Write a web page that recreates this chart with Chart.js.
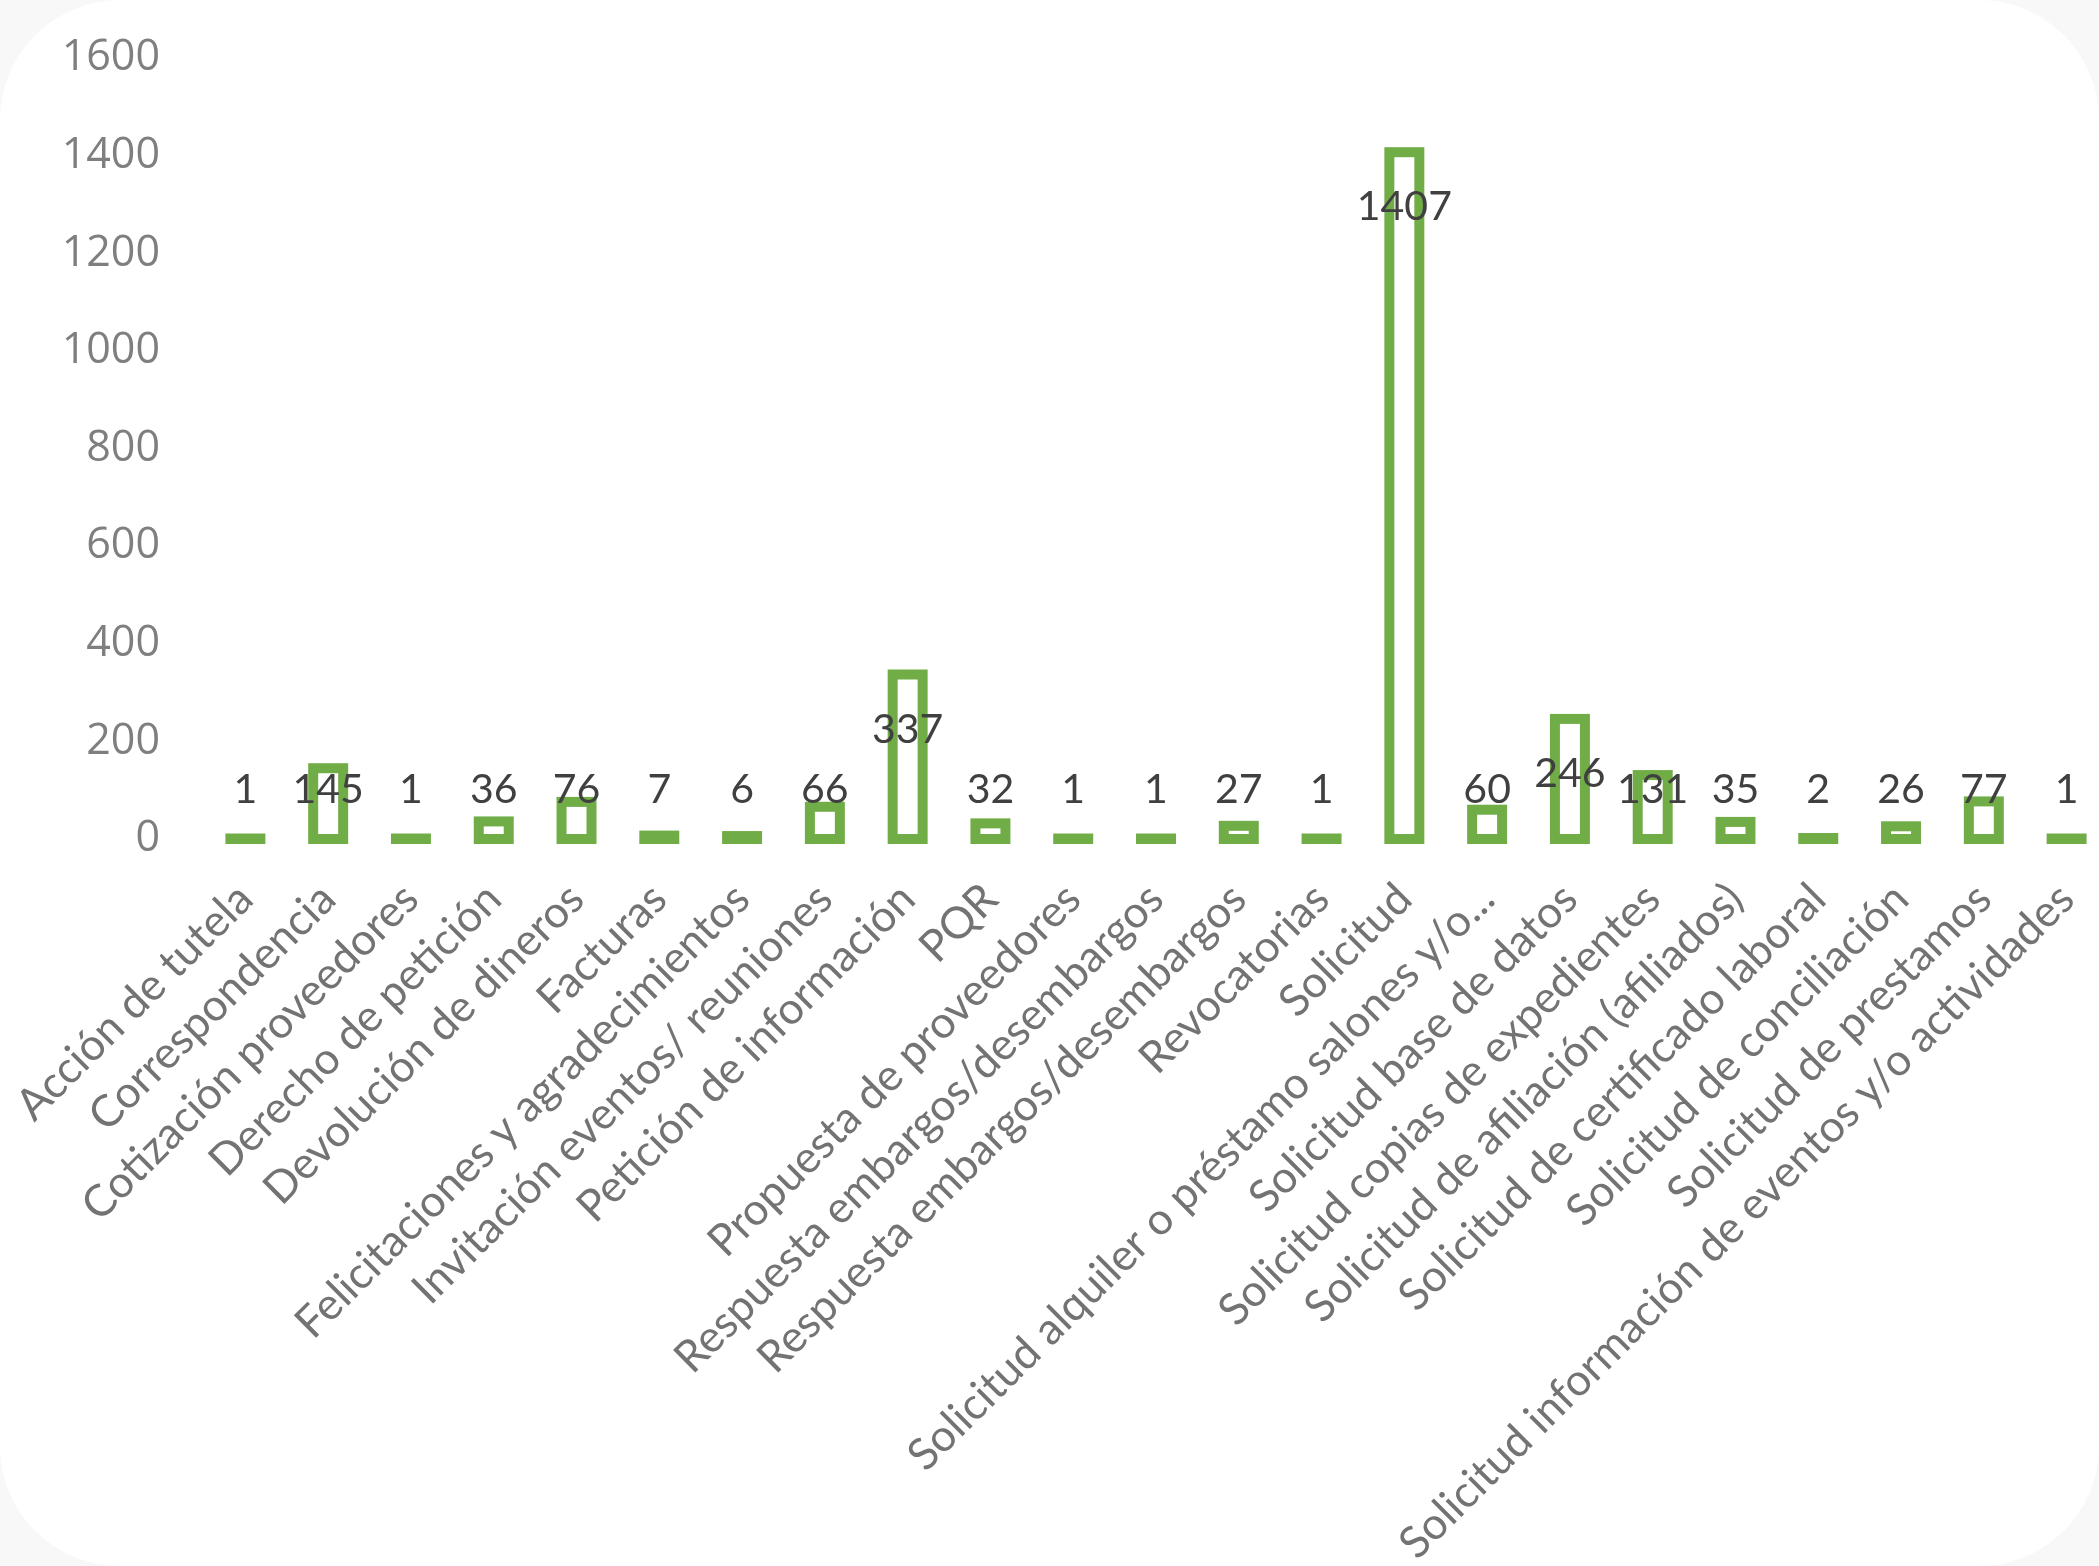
<!DOCTYPE html>
<html>
<head>
  <script src="https://cdn.jsdelivr.net/npm/chart.js@4.4.1/dist/chart.umd.min.js"></script>
<style>
  html, body { margin: 0; padding: 0; background: #f8f8f8; overflow: hidden; }
  #fondo { position: absolute; left: 0; top: 0; width: 2099px; height: 1566px; background: #ffffff; border-radius: 120px; }
  #caja { position: absolute; left: 0; top: 0; width: 2110px; height: 1566px; }
</style>
</head>
<body>
  <div id="fondo"></div>
  <div id="caja"><canvas id="myChart"></canvas></div>
  <script>
    var categorias = [
      'Acción de tutela',
      'Correspondencia',
      'Cotización proveedores',
      'Derecho de petición',
      'Devolución de dineros',
      'Facturas',
      'Felicitaciones y agradecimientos',
      'Invitación eventos/ reuniones',
      'Petición de información',
      'PQR',
      'Propuesta de proveedores',
      'Respuesta embargos/desembargos',
      'Respuesta embargos/desembargos',
      'Revocatorias',
      'Solicitud',
      'Solicitud alquiler o préstamo salones y/o...',
      'Solicitud base de datos',
      'Solicitud copias de expedientes',
      'Solicitud de afiliación (afiliados)',
      'Solicitud de certificado laboral',
      'Solicitud de conciliación',
      'Solicitud de prestamos',
      'Solicitud información de eventos y/o actividades'
    ];
    var valores = [1, 145, 1, 36, 76, 7, 6, 66, 337, 32, 1, 1, 27, 1, 1407, 60, 246, 131, 35, 2, 26, 77, 1];
    var ejeMax = 1600;
    var ejePaso = 200;

    var verde = '#70ad47';

    // contorno tipo Excel (centrado en el borde) + etiquetas de datos
    var contornoYEtiquetas = {
      id: 'contornoYEtiquetas',
      afterDatasetsDraw: function (chart) {
        var ctx = chart.ctx;
        var meta = chart.getDatasetMeta(0);
        ctx.save();
        ctx.strokeStyle = verde;
        ctx.lineWidth = 10;
        meta.data.forEach(function (bar) {
          var p = bar.getProps(['x', 'y', 'base', 'width'], true);
          ctx.strokeRect(p.x - p.width / 2, p.y, p.width, p.base - p.y);
        });
        ctx.fillStyle = '#404040';
        ctx.font = '41px Lato';
        ctx.textAlign = 'center';
        ctx.textBaseline = 'middle';
        meta.data.forEach(function (bar, i) {
          var p = bar.getProps(['x', 'y', 'base'], true);
          var y = Math.min(p.y + 55, p.base - 49);
          ctx.fillText(String(valores[i]), p.x, y);
        });
        ctx.restore();
      }
    };

    var ctx = document.getElementById('myChart');
    var myChart = new Chart(ctx, {
      type: 'bar',
      data: {
        labels: categorias,
        datasets: [{
          data: valores,
          backgroundColor: 'rgba(0,0,0,0)',
          borderWidth: 0,
          barPercentage: 0.362,
          categoryPercentage: 1
        }]
      },
      options: {
        responsive: true,
        maintainAspectRatio: false,
        animation: false,
        layout: { padding: { top: 58, right: 2, left: 0, bottom: 0 } },
        plugins: { legend: { display: false }, tooltip: { enabled: false } },
        scales: {
          y: {
            min: 0,
            max: ejeMax,
            ticks: {
              stepSize: ejePaso,
              color: '#7f7f7f',
              font: { family: 'Open Sans', size: 43 },
              padding: 44,
              callback: function (v) { return String(v); }
            },
            grid: { display: false, drawTicks: false },
            border: { display: false },
            afterFit: function (scale) {
              scale.width = 204;
              scale.paddingTop = 0;
              scale.paddingBottom = 0;
            }
          },
          x: {
            ticks: {
              color: '#737373',
              font: { family: 'Lato', size: 44 },
              minRotation: 45,
              maxRotation: 45,
              autoSkip: false,
              padding: 34
            },
            grid: { display: false, drawTicks: false },
            border: { display: false },
            afterFit: function (scale) {
              scale.height = 727;
              scale.paddingLeft = 0;
              scale.paddingRight = 0;
            }
          }
        }
      },
      plugins: [contornoYEtiquetas]
    });
  </script>
</body>
</html>
